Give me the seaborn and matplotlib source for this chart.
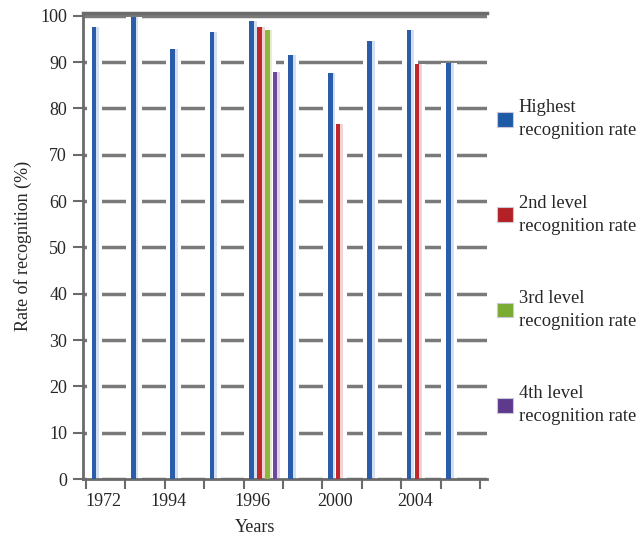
import numpy as np
import pandas as pd
import matplotlib
matplotlib.use("Agg")
import matplotlib.pyplot as plt
import seaborn as sns
from matplotlib.patches import Rectangle, Patch

# ---- data ----
groups = list(range(10))
tick_labels = ["1972", "1994", "1996", "2000", "2004"]
tick_label_pos = [-0.06, 1.59, 3.73, 5.83, 7.86]
series = ["Highest\nrecognition rate", "2nd level\nrecognition rate",
          "3rd level\nrecognition rate", "4th level\nrecognition rate"]
highest = [97.6, 99.8, 92.9, 96.5, 98.9, 91.6, 87.7, 94.6, 97.0, 89.8]
second_groups = [4, 6, 8]
second = [97.6, 76.7, 89.6]
third_groups = [4]
third = [97.0]
fourth_groups = [4]
fourth = [87.9]

colors = ["#2a5caa", "#c0272d", "#8db83a", "#6f479c"]
legend_colors = ["#1f5aa6", "#b32025", "#7aab33", "#5e3a8e"]
shadow = ["#d3e0f2", "#f2d2d2", "#e4efd0", "#e0d5ec"]

rows = []
for g, v in zip(groups, highest):
    rows.append((g, series[0], v))
for g, v in zip(second_groups, second):
    rows.append((g, series[1], v))
for g, v in zip(third_groups, third):
    rows.append((g, series[2], v))
for g, v in zip(fourth_groups, fourth):
    rows.append((g, series[3], v))
df = pd.DataFrame(rows, columns=["group", "series", "value"])

sns.set_style("white")
plt.rcParams["font.family"] = ["Liberation Serif", "DejaVu Serif"]

fig = plt.figure(figsize=(6.41, 5.38), dpi=100)
ax = fig.add_axes([83 / 641, 59 / 538, 404 / 641, 466 / 538])

sns.barplot(data=df, x="group", y="value", hue="series", hue_order=series,
            order=groups, palette=colors, width=0.8, gap=0.4, legend=False,
            ax=ax, saturation=1, zorder=3, linewidth=0)

# halo + light side face for a pseudo-3D look
color_to_idx = {matplotlib.colors.to_hex(c): i for i, c in enumerate(colors)}
for p in list(ax.patches):
    x, w, h = p.get_x(), p.get_width(), p.get_height()
    if not np.isfinite(h) or h <= 0:
        continue
    idx = color_to_idx.get(matplotlib.colors.to_hex(p.get_facecolor()), 0)
    ax.add_patch(Rectangle((x - w * 1.0, 0), w * 3.3, h, facecolor="white",
                           edgecolor="none", zorder=2))
    ax.add_patch(Rectangle((x + w, 0), w * 0.6, h, facecolor=shadow[idx],
                           edgecolor="none", zorder=2.5))

ax.set_xlim(-0.576, 9.68)
ax.set_ylim(0, 100.6)
ax.set_yticks(np.arange(0, 101, 10))
ax.set_yticklabels([str(v) for v in range(0, 101, 10)], fontsize=13)

# boundary ticks (major, no labels) and label positions (minor, no ticks)
ax.set_xticks(np.arange(-0.5, 10.0, 1.0))
ax.set_xticklabels([])
ax.set_xticks(tick_label_pos, minor=True)
ax.set_xticklabels(tick_labels, minor=True, fontsize=13)
ax.tick_params(axis="x", which="major", bottom=True, length=7, width=1.5,
               color="#6b6b6b", direction="out")
ax.tick_params(axis="x", which="minor", bottom=True, length=0, pad=10)
ax.tick_params(axis="y", left=True, length=7.5, width=1.5, color="#6b6b6b",
               direction="out", pad=4)

ax.yaxis.grid(True, color="#7a7a7a", linewidth=2.5)
ax.xaxis.grid(False)
ax.set_axisbelow(True)

for s in ["left", "bottom"]:
    ax.spines[s].set_color("#6b6b6b")
    ax.spines[s].set_linewidth(2)
ax.spines["top"].set_color("#6b6b6b")
ax.spines["top"].set_linewidth(2.5)
ax.spines["right"].set_visible(False)

ax.set_xlabel("Years", fontsize=13)
ax.xaxis.set_label_coords((255 - 83) / 404, -(527 - 479) / 466, transform=ax.transAxes)
ax.xaxis.label.set_va("center")
ax.set_ylabel("Rate of recognition (%)", fontsize=13, labelpad=6)

handles = [Patch(facecolor=c, edgecolor="#c8c8d8", linewidth=0.8) for c in legend_colors]
leg = fig.legend(handles, series, loc="upper left",
                 bbox_to_anchor=(490 / 641, 1 - 92 / 538),
                 frameon=False, fontsize=13.3, handlelength=0.85, handleheight=0.85,
                 handletextpad=0.3, labelspacing=3.0, borderaxespad=0)
for t in leg.get_texts():
    t.set_linespacing(1.45)

fig.savefig("out.png", dpi=100)
